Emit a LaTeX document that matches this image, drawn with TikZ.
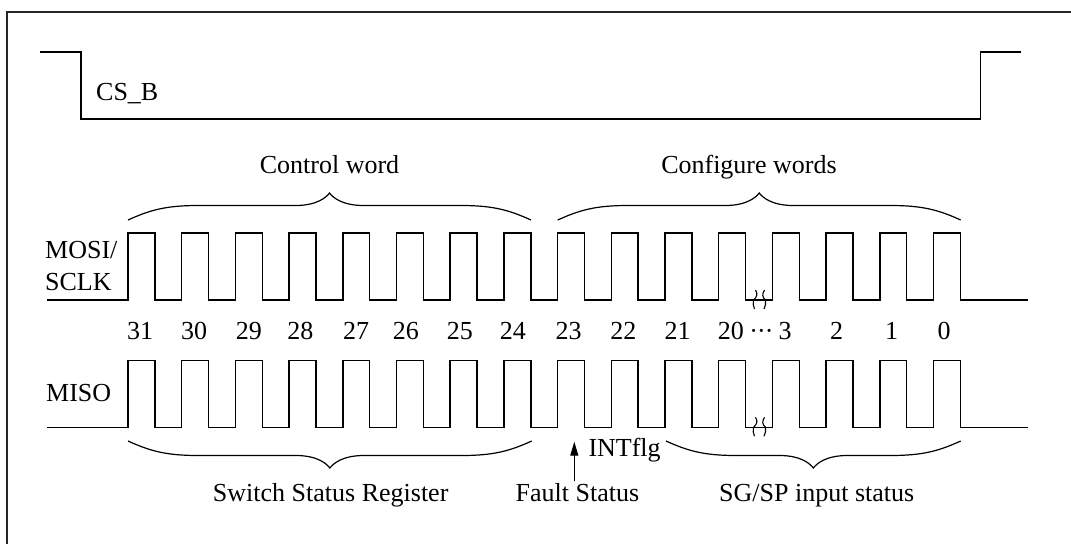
\documentclass[tikz,border=0pt]{standalone}
\usepackage{fontspec}
\setmainfont{Liberation Serif}
\usetikzlibrary{arrows.meta}

% Horizontal curly brace: #1 = left x, #2 = right x, #3 = baseline y, #4 = -1 (opens up) or 1 (opens down)
\newcommand\curlyspan[4]{%
  \pgfmathsetmacro\bxm{(#1+#2)/2}%
  \pgfmathsetmacro\bya{#3+#4*14.5}%
  \pgfmathsetmacro\byb{#3+#4*10}%
  \pgfmathsetmacro\byt{#3+#4*27}%
  \pgfmathsetmacro\byn{#3+#4*23}%
  \draw[bracel] (#1,#3) .. controls (#1+22,\byb) and (#1+38,\bya) .. (#1+70,\bya)
     -- (\bxm-34,\bya) .. controls (\bxm-12,\bya) and (\bxm-3,\byn) .. (\bxm,\byt)
     .. controls (\bxm+3,\byn) and (\bxm+12,\bya) .. (\bxm+34,\bya)
     -- (#2-70,\bya) .. controls (#2-38,\bya) and (#2-22,\byb) .. (#2,#3);%
}

\begin{document}
\begin{tikzpicture}[x=1pt,y=-1pt,
  sig/.style={line width=1.5pt, line join=miter},
  frameline/.style={line width=1.8pt, draw=black!85},
  bracel/.style={line width=1.2pt},
  txt/.style={inner sep=0pt, font=\fontsize{26}{30}\selectfont},
  brk/.style={line width=1.1pt}]
  \useasboundingbox (0,0) rectangle (1071,544);

  % outer frame (only top and left edges fall inside the page)
  \draw[frameline] (7,544) -- (7,12) -- (1071,12);

  % chip select
  \draw[sig] (40,52) -- (81,52) -- (81,119) -- (980.7,119) -- (980.7,52) -- (1021,52);
  \node[txt, anchor=base west] (csb) at (96,100) {CS\_B};

  % MOSI / SCLK waveform
  \draw[sig] (47,300)
    \foreach \k in {0,...,15}{ -- ({128+53.7*\k},300) -- ++(0,-67) -- ++(26.9,0) -- ++(0,67) }
    -- (1028,300);
  \node[txt, anchor=base west] (mosi) at (45,258) {MOSI/};
  \node[txt, anchor=base west] (sclk) at (45,290.5) {SCLK};

  % MISO waveform
  \draw[sig] (47,427.3)
    \foreach \k in {0,...,15}{ -- ({128+53.7*\k},427.3) -- ++(0,-66.6) -- ++(26.9,0) -- ++(0,66.6) }
    -- (1028,427.3);
  \node[txt, anchor=base west] (miso) at (46,401.5) {MISO};

  % break marks on both low lines
  \foreach \yb in {300,427.3}{
    \draw[brk] (755.5,\yb-10) .. controls (758,\yb-6) and (757,\yb-3) .. (753.5,\yb)
               .. controls (753,\yb+3) and (753,\yb+6) .. (754.5,\yb+9);
    \draw[brk] (764.5,\yb-10) .. controls (762,\yb-6) and (762,\yb-3) .. (765.5,\yb)
               .. controls (766,\yb+3) and (765.5,\yb+6) .. (764,\yb+9);
  }

  % bit numbers
  \foreach \lbl/\xx in {31/140,30/194.2,29/248.8,28/300.3,27/356,26/405.8,25/459.8,24/512.8,
                        23/568.7,22/623.3,21/677.5,20/730.8,3/785,2/836.7,1/891.7,0/944}{
    \node[txt, anchor=base] (b\lbl) at (\xx,339) {\lbl};
  }
  \node[txt, anchor=base] (dots) at (761.7,339) {\kern-0.5pt·\kern-1pt·\kern-1pt·};

  % word braces above MOSI
  \curlyspan{128}{531}{220}{-1}
  \curlyspan{557.7}{960.7}{220}{-1}
  \node[txt, anchor=base] (ctrl) at (329.5,173.3) {Control word};
  \node[txt, anchor=base] (conf) at (749,173.3) {Configure words};

  % field braces below MISO
  \curlyspan{128}{531.7}{441}{1}
  \curlyspan{666}{960.7}{441}{1}
  \node[txt, anchor=base] (ssr) at (330.7,501.7) {Switch Status Register};
  \node[txt, anchor=base] (sgsp) at (816.7,501.7) {SG/SP input status};
  \node[txt, anchor=base] (fault) at (577.5,501.7) {Fault Status};

  % interrupt flag pointer
  \coordinate (inttip) at (574.3,441.7);
  \draw[line width=1.1pt, -{Triangle[length=14pt,width=8pt]}] (fault.north -| inttip) ++(0,-2) -- (inttip);
  \node[txt, anchor=base west] (intflg) at (588.3,456.7) {INTflg};
\end{tikzpicture}
\end{document}
